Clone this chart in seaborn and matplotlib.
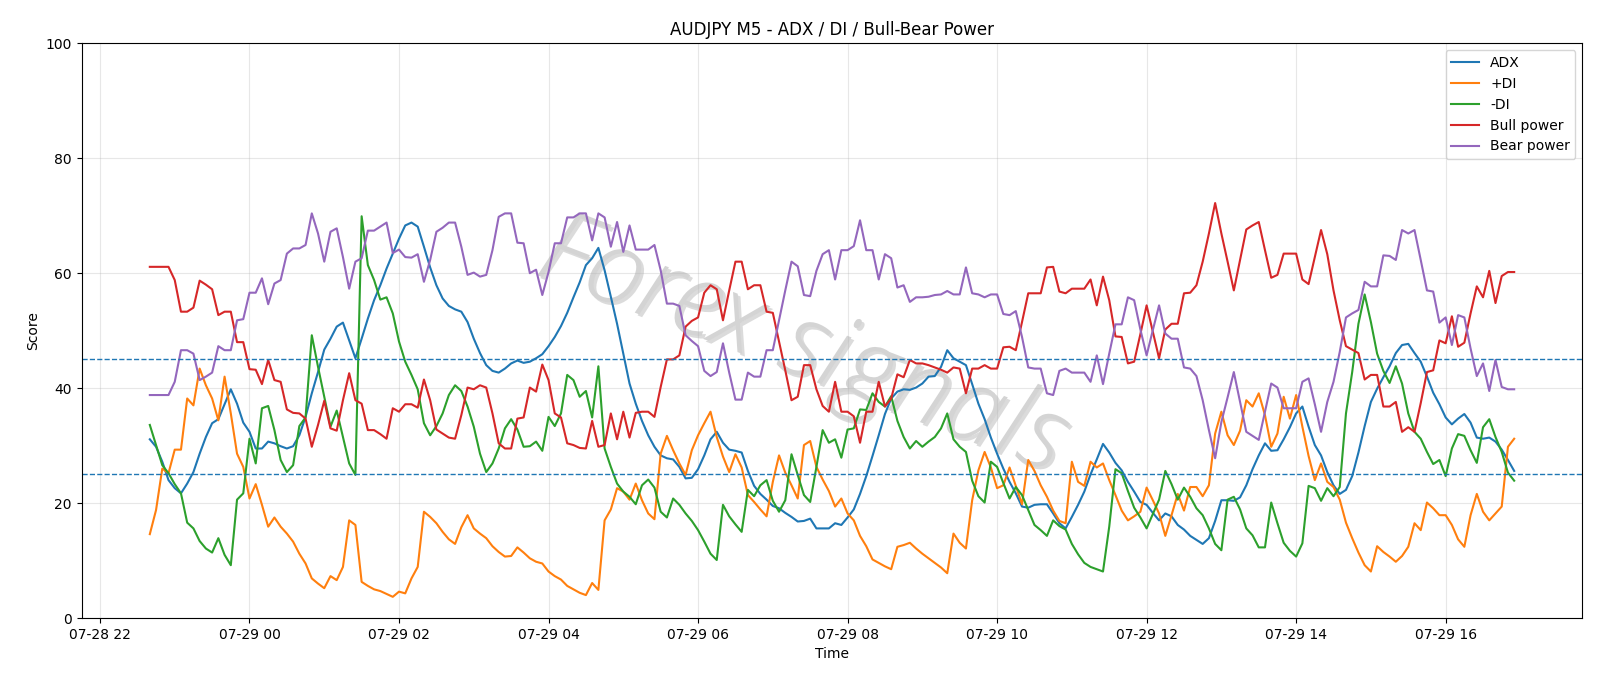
import numpy as np
import pandas as pd
import matplotlib
matplotlib.use("Agg")
import matplotlib.pyplot as plt
import matplotlib.patheffects as pe
import seaborn as sns

# 5-minute bars, 07-28 22:40 -> 07-29 16:55
times = pd.date_range("2025-07-28 22:40", periods=220, freq="5min")

adx = [31.1, 29.8, 27.2, 24.0, 22.6, 21.7, 23.4, 25.4, 28.6, 31.5, 33.9, 34.6, 37.2, 39.8, 37.3, 34.0, 32.4, 29.5, 29.5, 30.7,
       30.4, 29.9, 29.5, 29.9, 31.8, 35.0, 39.1, 42.8, 46.7, 48.6, 50.7, 51.4, 48.3, 45.2, 48.6, 52.1, 55.3, 57.9, 60.8, 63.4, 66.0, 68.3,
       68.8, 68.1, 64.6, 61.0, 57.9, 55.6, 54.3, 53.7, 53.3, 51.5, 48.6, 46.1, 44.0, 43.0, 42.7, 43.4, 44.3, 44.8, 44.4, 44.6, 45.2,
       45.9, 47.3, 48.9, 50.8, 53.1, 55.8, 58.4, 61.4, 62.6, 64.4, 60.5, 55.9, 51.2, 46.0, 40.8, 37.3, 34.3, 31.8, 29.8, 28.3, 27.8,
       27.6, 26.3, 24.3, 24.4, 25.9, 28.3, 31.1, 32.4, 30.5, 29.3, 29.1, 28.8, 25.6, 23.0, 21.6, 20.6, 19.5, 19.1, 18.3, 17.6, 16.8,
       16.9, 17.3, 15.6, 15.6, 15.6, 16.5, 16.2, 17.5, 18.9, 21.6, 24.7, 28.2, 31.8, 35.5, 38.2, 39.4, 39.8, 39.7, 40.1, 40.8, 42.0,
       42.1, 43.7, 46.6, 45.2, 44.6, 44.0, 40.7, 37.3, 34.6, 31.4, 28.6, 26.0, 23.7, 21.7, 19.4, 19.2, 19.7, 19.8, 19.8, 18.2, 16.5,
       15.6, 17.6, 19.7, 22.0, 25.0, 27.6, 30.3, 28.8, 27.0, 25.7, 23.7, 22.0, 20.2, 19.7, 18.3, 17.0, 18.2, 17.7, 16.2, 15.4, 14.3, 13.6,
       12.9, 13.9, 16.9, 20.5, 20.5, 20.4, 21.0, 23.1, 25.9, 28.3, 30.4, 29.1, 29.2, 31.1, 33.2, 35.6, 36.8, 33.3, 30.1, 28.3, 25.4,
       23.1, 21.6, 22.3, 24.7, 28.8, 33.4, 37.6, 39.9, 41.9, 43.8, 46.1, 47.5, 47.7, 46.1, 44.6, 42.0, 39.2, 37.2, 34.9, 33.7, 34.7,
       35.5, 34.0, 31.4, 31.2, 31.4, 30.7, 29.3, 27.5, 25.6]

plus_di = [14.6, 18.8, 26.0, 25.2, 29.3, 29.3, 38.2, 37.0, 43.4, 40.5, 38.2, 34.4, 42.0, 35.6, 28.6, 26.3, 20.8, 23.3, 19.7, 15.9,
           17.5, 15.9, 14.7, 13.3, 11.2, 9.5, 6.9, 6.0, 5.2, 7.3, 6.6, 8.9, 17.0, 16.2, 6.3, 5.6, 5.0, 4.7, 4.2, 3.7, 4.6, 4.3,
           6.9, 8.9, 18.5, 17.6, 16.5, 15.0, 13.7, 12.9, 15.8, 17.9, 15.6, 14.7, 13.9, 12.5, 11.5, 10.7, 10.8, 12.3, 11.4, 10.4, 9.8,
           9.5, 8.1, 7.3, 6.7, 5.6, 5.0, 4.4, 4.0, 6.1, 4.9, 17.0, 18.9, 22.6, 22.0, 20.6, 23.4, 20.5, 18.2, 17.2, 28.6, 31.7,
           29.2, 26.9, 24.9, 29.2, 31.8, 33.9, 35.9, 31.5, 28.1, 25.4, 28.5, 26.2, 21.4, 20.2, 18.9, 17.7, 23.7, 28.3, 25.3, 23.1, 20.8,
           30.1, 30.8, 26.3, 24.1, 22.1, 19.4, 20.8, 18.2, 17.0, 14.3, 12.5, 10.2, 9.6, 9.0, 8.5, 12.4, 12.7, 13.1, 12.1, 11.2, 10.4,
           9.6, 8.8, 7.8, 14.7, 13.1, 12.1, 20.5, 25.7, 28.9, 26.2, 22.6, 23.1, 26.2, 23.0, 19.8, 27.5, 25.6, 23.1, 21.1, 18.7, 16.9,
           16.5, 27.2, 23.7, 23.0, 27.2, 26.2, 26.9, 24.0, 21.4, 18.7, 17.0, 17.7, 18.5, 22.7, 20.5, 18.2, 14.3, 17.9, 21.6, 18.7, 22.8, 22.8,
           21.2, 23.1, 32.1, 35.9, 31.8, 30.1, 32.6, 37.9, 36.8, 39.1, 35.3, 29.8, 32.1, 38.5, 34.7, 38.8, 33.3, 28.2, 24.0, 26.9, 23.7,
           22.8, 20.6, 16.6, 13.9, 11.4, 9.2, 8.1, 12.5, 11.5, 10.7, 9.8, 10.8, 12.4, 16.5, 15.3, 20.1, 19.1, 17.9, 17.9, 16.2, 13.7,
           12.4, 17.9, 21.6, 18.5, 17.0, 18.2, 19.4, 29.8, 31.2]

minus_di = [33.6, 30.1, 26.6, 25.2, 23.3, 21.7, 16.6, 15.6, 13.4, 12.1, 11.4, 13.9, 11.0, 9.2, 20.6, 21.7, 31.2, 26.9, 36.5, 36.9,
            32.7, 27.5, 25.4, 26.6, 33.4, 34.9, 49.2, 43.7, 38.5, 33.3, 36.1, 31.5, 26.9, 24.9, 69.9, 61.4, 58.8, 55.4, 55.8, 53.0, 48.1, 44.6,
            42.3, 39.8, 33.9, 31.8, 33.4, 35.6, 38.8, 40.5, 39.5, 36.8, 33.3, 28.6, 25.4, 26.9, 29.5, 33.0, 34.6, 32.8, 29.8, 29.9, 30.7,
            29.1, 35.0, 33.4, 35.6, 42.3, 41.4, 38.5, 39.5, 34.9, 43.8, 29.5, 26.3, 23.4, 22.0, 21.1, 19.8, 23.1, 24.1, 22.7, 18.5, 17.5,
            20.8, 19.7, 18.2, 16.9, 15.3, 13.3, 11.2, 10.1, 19.7, 17.7, 16.3, 15.0, 22.3, 21.2, 23.1, 24.0, 20.4, 18.5, 20.5, 28.5, 24.9,
            21.4, 20.2, 26.3, 32.7, 30.5, 31.1, 27.9, 32.8, 33.0, 36.3, 36.2, 39.1, 37.6, 36.8, 38.6, 34.3, 31.5, 29.5, 30.8, 29.8, 30.7,
            31.5, 33.0, 35.6, 31.1, 29.8, 28.9, 23.9, 21.2, 20.1, 27.2, 26.3, 23.5, 20.8, 22.8, 21.4, 18.8, 16.2, 15.3, 14.3, 17.0, 16.0,
            15.4, 12.9, 11.1, 9.6, 8.9, 8.5, 8.1, 15.9, 25.9, 25.2, 22.1, 19.2, 17.5, 15.6, 18.1, 20.6, 25.6, 23.3, 20.6, 22.7, 21.1, 19.1,
            17.9, 15.6, 12.9, 11.8, 20.6, 21.1, 18.9, 15.6, 14.4, 12.3, 12.3, 20.1, 16.5, 13.1, 11.7, 10.7, 13.0, 23.0, 22.6, 20.4, 22.6,
            21.2, 22.8, 35.6, 42.8, 51.2, 56.3, 51.5, 46.0, 43.0, 40.9, 43.8, 40.8, 35.6, 32.4, 31.2, 28.9, 26.8, 27.5, 24.7, 29.5, 32.0,
            31.7, 29.2, 27.0, 33.2, 34.6, 31.5, 28.9, 25.3, 23.9]

bull = [61.1, 61.1, 61.1, 61.1, 58.8, 53.3, 53.3, 54.0, 58.7, 58.0, 57.2, 52.7, 53.3, 53.3, 48.0, 48.0, 43.3, 43.2, 40.7, 44.9,
        41.4, 41.1, 36.3, 35.7, 35.6, 34.7, 29.8, 33.6, 37.8, 33.0, 32.6, 37.9, 42.6, 37.9, 37.3, 32.7, 32.7, 32.0, 31.2, 36.5, 35.9, 37.2,
        37.2, 36.6, 41.5, 37.9, 32.8, 32.1, 31.4, 31.2, 35.3, 40.1, 39.8, 40.5, 40.1, 35.6, 30.4, 29.5, 29.5, 34.7, 34.9, 40.1, 39.4,
        44.1, 41.4, 35.6, 34.9, 30.4, 30.1, 29.6, 29.5, 34.3, 29.8, 30.1, 35.6, 31.1, 35.9, 31.4, 35.7, 35.9, 35.9, 35.0, 40.2, 45.0,
        45.0, 45.7, 50.7, 51.7, 52.3, 56.6, 57.9, 57.2, 51.8, 57.0, 62.0, 62.0, 57.2, 57.9, 57.9, 53.3, 53.1, 48.1, 43.1, 37.9, 38.5,
        44.0, 44.0, 39.8, 36.9, 35.9, 41.1, 35.9, 35.9, 35.1, 30.5, 35.9, 35.9, 41.1, 36.8, 38.2, 42.4, 41.9, 44.9, 44.3, 44.3, 44.0,
        43.6, 43.2, 42.7, 43.6, 43.4, 39.1, 43.4, 43.4, 44.0, 43.4, 43.4, 47.1, 47.2, 46.6, 51.5, 56.5, 56.5, 56.5, 61.0, 61.1, 56.8,
        56.5, 57.3, 57.3, 57.3, 58.9, 54.4, 59.4, 55.3, 49.0, 48.9, 44.3, 44.6, 49.4, 54.4, 49.8, 45.2, 50.2, 51.2, 51.2, 56.5, 56.6, 57.9,
        62.0, 66.9, 72.2, 66.9, 62.0, 57.0, 62.3, 67.6, 68.3, 68.9, 64.0, 59.2, 59.7, 63.4, 63.4, 63.4, 58.9, 58.1, 62.8, 67.5, 63.3,
        57.0, 51.8, 47.3, 46.7, 46.1, 41.5, 42.3, 42.3, 36.8, 36.8, 37.6, 32.4, 33.2, 32.4, 37.4, 42.8, 43.1, 48.3, 47.8, 52.5, 47.2,
        47.9, 53.0, 57.7, 55.8, 60.4, 54.8, 59.5, 60.2, 60.2]

bear = [38.8, 38.8, 38.8, 38.8, 41.1, 46.6, 46.6, 46.0, 41.4, 42.0, 42.7, 47.3, 46.6, 46.6, 51.8, 52.0, 56.6, 56.6, 59.1, 54.6,
        58.2, 58.8, 63.4, 64.3, 64.3, 64.9, 70.4, 66.9, 62.0, 67.2, 67.8, 62.8, 57.3, 62.0, 62.6, 67.4, 67.4, 68.1, 68.8, 63.5, 64.1, 62.8,
        62.7, 63.3, 58.5, 62.3, 67.2, 67.9, 68.8, 68.8, 64.6, 59.7, 60.1, 59.4, 59.7, 64.0, 69.8, 70.4, 70.4, 65.3, 65.2, 60.0, 60.6,
        56.2, 60.2, 65.2, 65.2, 69.7, 69.7, 70.4, 70.4, 65.7, 70.4, 69.7, 64.6, 68.9, 63.7, 68.3, 64.1, 64.1, 64.1, 64.9, 60.5, 54.7,
        54.7, 54.3, 49.2, 48.2, 47.3, 43.0, 42.1, 42.8, 47.8, 42.7, 38.0, 38.0, 42.7, 42.0, 42.0, 46.6, 46.6, 51.8, 57.0, 62.0, 61.2,
        56.2, 56.0, 60.4, 63.3, 64.0, 58.9, 64.0, 64.0, 64.7, 69.2, 64.0, 64.0, 58.9, 63.3, 62.6, 57.5, 57.9, 55.0, 55.8, 55.8, 55.9,
        56.2, 56.3, 56.9, 56.3, 56.3, 61.0, 56.5, 56.3, 55.8, 56.3, 56.3, 52.9, 52.7, 53.4, 48.9, 43.6, 43.4, 43.4, 39.1, 38.8, 43.0,
        43.4, 42.7, 42.7, 42.7, 41.1, 45.7, 40.7, 46.0, 51.1, 51.1, 55.8, 55.3, 50.2, 45.7, 50.1, 54.4, 49.5, 48.6, 48.6, 43.6, 43.4, 42.1,
        37.9, 32.7, 27.8, 34.1, 38.4, 42.8, 37.6, 32.4, 31.7, 31.0, 35.9, 40.8, 40.1, 36.5, 36.5, 36.5, 41.1, 41.7, 37.2, 32.4, 37.6,
        41.1, 46.3, 52.3, 53.0, 53.6, 58.5, 57.7, 57.7, 63.1, 63.0, 62.3, 67.5, 66.9, 67.5, 62.3, 57.0, 56.8, 51.4, 52.3, 47.5, 52.7,
        52.3, 46.9, 42.1, 44.3, 39.5, 44.9, 40.2, 39.8, 39.8]

series = [("ADX", adx), ("+DI", plus_di), ("-DI", minus_di), ("Bull power", bull), ("Bear power", bear)]
levels = [45, 25]

fig, ax = plt.subplots(figsize=(16, 6.86), dpi=100)
colors = sns.color_palette("tab10")

for k, (name, vals) in enumerate(series):
    sns.lineplot(x=times, y=vals, ax=ax, color=colors[k], linewidth=1.5, label=name)

for lv in levels:
    ax.axhline(lv, color=colors[0], linestyle="--", linewidth=1)

# faint watermark across the middle of the plot
ax.text(0.48, 0.47, "Forex signals", transform=ax.transAxes, fontsize=74,
        family="Open Sans", fontweight="light", style="italic",
        color="#d4d4d4", rotation=-21, ha="center", va="center", zorder=0,
        path_effects=[pe.withSimplePatchShadow(offset=(2, -2), shadow_rgbFace="#9a9a9a", alpha=0.35)])

ax.set_ylim(0, 100)
ax.set_title("AUDJPY M5 - ADX / DI / Bull-Bear Power")
ax.set_xlabel("Time")
ax.set_ylabel("Score")
ax.grid(True, alpha=0.3)
ax.legend(loc="upper right")

fig.subplots_adjust(left=0.051, right=0.989, top=0.937, bottom=0.099)
fig.savefig("out.png", dpi=100)
